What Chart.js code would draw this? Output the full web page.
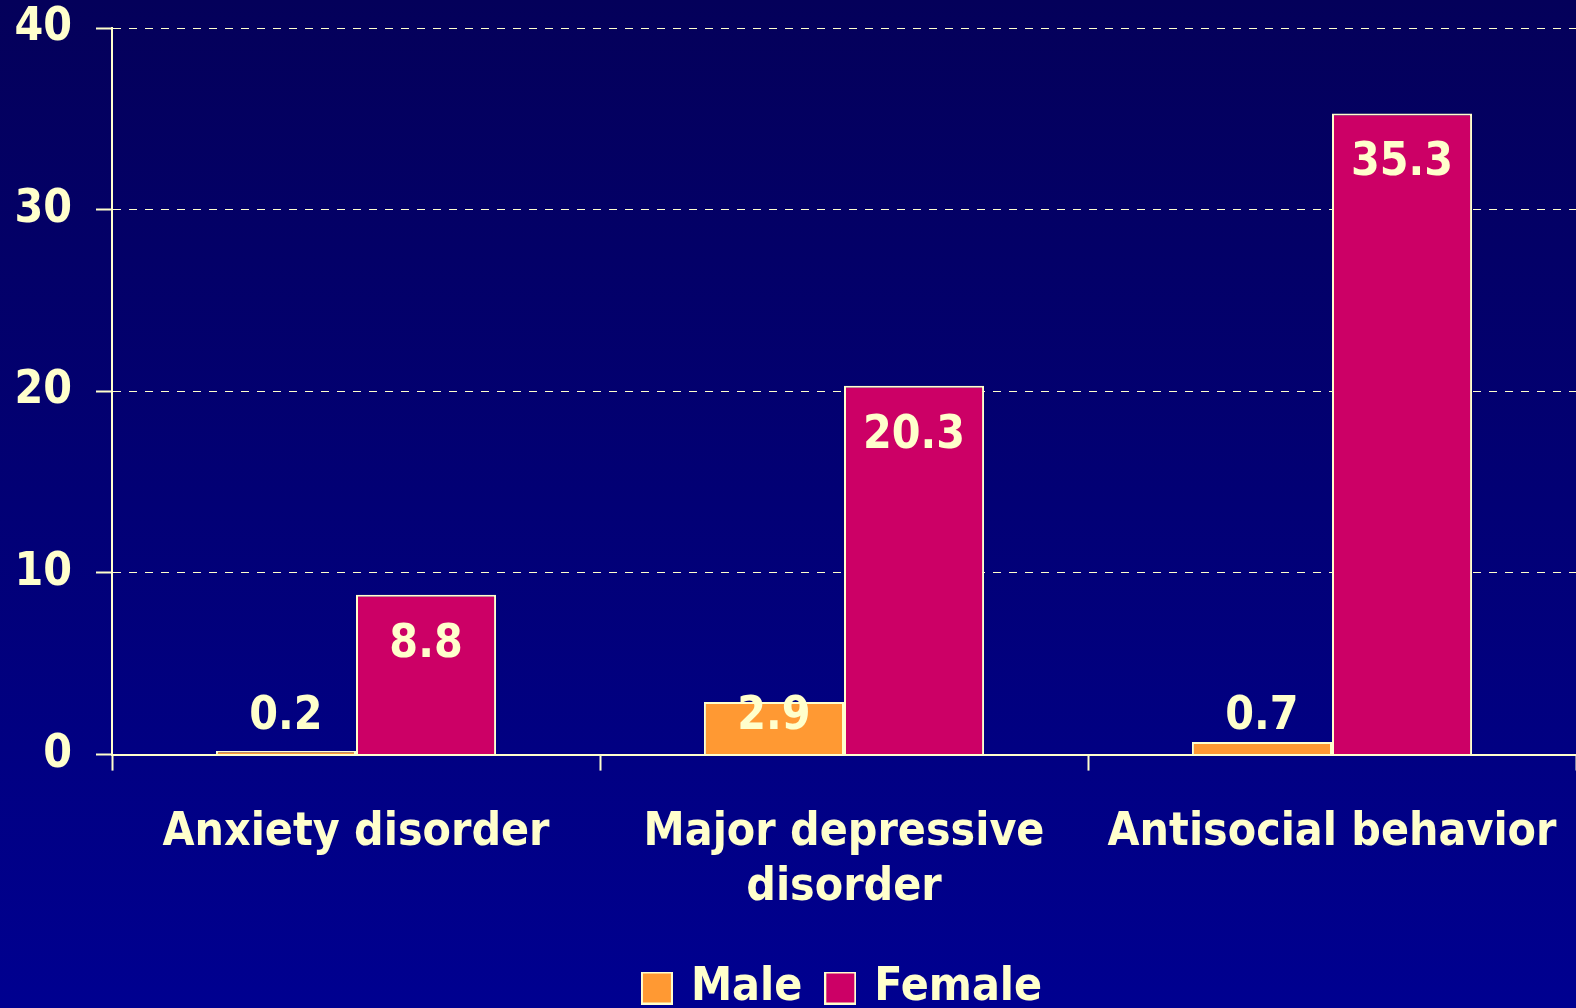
<!DOCTYPE html>
<html>
<head>
  <meta charset="utf-8">
  <title>Prevalence by sex</title>
  <script src="https://cdn.jsdelivr.net/npm/chart.js@4.4.0/dist/chart.umd.min.js"></script>
  <style>
    html, body {
      margin: 0;
      padding: 0;
      height: 100%;
    }
    body {
      background: linear-gradient(to bottom, #04005a 0%, #000090 100%);
    }
    #wrap {
      position: absolute;
      left: 0;
      top: 0;
      width: 1576px;
      height: 1008px;
    }
  </style>
</head>
<body>
  <div id="wrap"><canvas id="chart"></canvas></div>
  <script>
    var categories = [['Anxiety disorder'], ['Major depressive', 'disorder'], ['Antisocial behavior']];
    var seriesNames = ['Male', 'Female'];
    var maleValues = [0.2, 2.9, 0.7];
    var femaleValues = [8.8, 20.3, 35.3];
    var yTicks = [0, 10, 20, 30, 40];

    var cream = '#ffffcc';
    var seriesColors = ['#ff9933', '#cc0066'];
    var fontFamily = '"DejaVu Sans Condensed", "DejaVu Sans", sans-serif';
    var bigFont = { family: fontFamily, size: 46, weight: 'bold', lineHeight: 1.2 };

    // little square swatches for the legend, so the gap to the text stays tight
    function swatch(color) {
      var c = document.createElement('canvas');
      c.width = 32;
      c.height = 33;
      var g = c.getContext('2d');
      g.fillStyle = color;
      g.fillRect(0, 0, 32, 33);
      g.strokeStyle = cream;
      g.lineWidth = 2;
      g.strokeRect(1, 1, 30, 31);
      return c;
    }
    var swatches = seriesColors.map(swatch);

    // numbers drawn on the bars (male ones sit just above the axis, female ones inside the top)
    var valueLabels = {
      id: 'valueLabels',
      afterDatasetsDraw: function(chart) {
        var ctx = chart.ctx;
        var zeroY = chart.scales.y.getPixelForValue(0);
        ctx.save();
        ctx.fillStyle = cream;
        ctx.font = 'bold 46px ' + fontFamily;
        ctx.textAlign = 'center';
        ctx.textBaseline = 'alphabetic';
        chart.data.datasets.forEach(function(ds, i) {
          chart.getDatasetMeta(i).data.forEach(function(bar, j) {
            var y = i === 0 ? zeroY - 26 : bar.y + 62;
            ctx.fillText(ds.data[j].toFixed(1), bar.x, y);
          });
        });
        ctx.restore();
      }
    };

    var options = {
      type: 'bar',
      data: {
        labels: categories,
        datasets: [{
          label: seriesNames[0],
          data: maleValues,
          backgroundColor: seriesColors[0],
          borderColor: cream,
          borderWidth: 2
        }, {
          label: seriesNames[1],
          data: femaleValues,
          backgroundColor: seriesColors[1],
          borderColor: cream,
          borderWidth: 2
        }]
      },
      options: {
        responsive: true,
        maintainAspectRatio: false,
        animation: false,
        categoryPercentage: 0.574,
        barPercentage: 1,
        layout: { padding: { top: 0, right: 0, bottom: -13, left: 0 } },
        plugins: {
          tooltip: { enabled: false },
          legend: {
            position: 'bottom',
            fullSize: false,
            labels: {
              color: cream,
              font: bigFont,
              usePointStyle: true,
              pointStyleWidth: 22,
              boxHeight: 32,
              padding: 27,
              generateLabels: function(chart) {
                var items = Chart.defaults.plugins.legend.labels.generateLabels(chart);
                items.forEach(function(it) {
                  it.pointStyle = swatches[it.datasetIndex];
                });
                return items;
              }
            }
          }
        },
        scales: {
          x: {
            afterFit: function(scale) {
              scale.height -= 13;
              scale.paddingLeft = 0;
              scale.paddingRight = 0;
            },
            grid: {
              display: true,
              drawOnChartArea: false,
              offset: true,
              tickLength: 16,
              tickColor: cream,
              tickWidth: 2,
              color: cream
            },
            border: { display: true, color: cream, width: 2 },
            ticks: {
              color: cream,
              font: bigFont,
              padding: 35,
              maxRotation: 0,
              autoSkip: false
            }
          },
          y: {
            min: yTicks[0],
            max: yTicks[yTicks.length - 1],
            afterBuildTicks: function(scale) {
              scale.ticks = yTicks.map(function(v) { return { value: v }; });
            },
            afterFit: function(scale) {
              scale.width = 112;
              scale.paddingTop = 28;
              scale.paddingBottom = 0;
            },
            grid: {
              color: cream,
              lineWidth: 1,
              tickLength: 16,
              tickColor: cream,
              tickWidth: 2,
              tickBorderDash: []
            },
            border: { display: true, color: cream, width: 2, dash: [8, 8] },
            ticks: {
              color: cream,
              font: bigFont,
              padding: 24
            }
          }
        }
      },
      plugins: [valueLabels]
    };

    var ctx = document.getElementById('chart').getContext('2d');
    window.chart = new Chart(ctx, options);
  </script>
</body>
</html>
